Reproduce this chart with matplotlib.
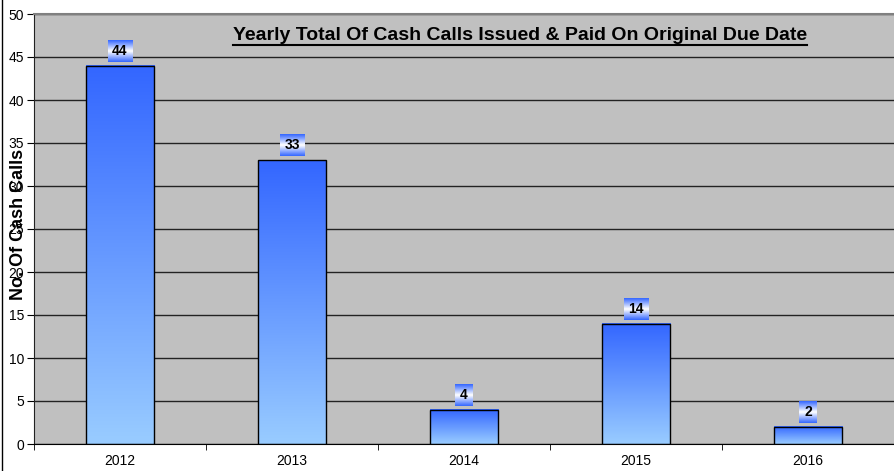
import numpy as np
import matplotlib.pyplot as plt
from matplotlib.colors import LinearSegmentedColormap
from matplotlib.patches import Rectangle
from matplotlib.lines import Line2D

plt.rcParams['font.family'] = ['Liberation Sans', 'DejaVu Sans']

years = ['2012', '2013', '2014', '2015', '2016']
calls = [44, 33, 4, 14, 2]
title = 'Yearly Total Of Cash Calls Issued & Paid On Original Due Date'
ylabel = 'No. Of Cash Calls'

bar_cmap = LinearSegmentedColormap.from_list('bar', ['#99ccff', '#3366ff'])
box_cmap = LinearSegmentedColormap.from_list('box', ['#3366ff', '#ffffff'])

fig = plt.figure(figsize=(8.94, 4.71), dpi=100)
ax = fig.add_axes([34 / 894, 27 / 471, 860 / 894, 430 / 471])
ax.set_facecolor('#c0c0c0')

x = np.arange(len(years))
width = 0.40
grad = np.linspace(0, 1, 256).reshape(-1, 1)
box_grad = np.concatenate([np.linspace(0, 1, 64), np.linspace(1, 0, 64)]).reshape(-1, 1)

for xi, v in zip(x, calls):
    ax.imshow(grad, extent=[xi - width / 2, xi + width / 2, 0, v], origin='lower',
              aspect='auto', cmap=bar_cmap, zorder=2, interpolation='bilinear')
    ax.add_patch(Rectangle((xi - width / 2, 0), width, v, fill=False,
                           edgecolor='black', lw=1, zorder=3))
    bw = 0.14 if v >= 10 else 0.10
    b0 = v + 0.47
    ax.imshow(box_grad, extent=[xi - bw / 2, xi + bw / 2, b0, b0 + 2.5], origin='lower',
              aspect='auto', cmap=box_cmap, zorder=4, interpolation='bilinear')
    ax.text(xi, b0 + 1.25, str(v), ha='center', va='center', fontsize=10,
            fontweight='bold', zorder=5)

ax.set_xlim(-0.5, len(years) - 0.5)
ax.set_ylim(0, 50)
ax.set_yticks(np.arange(0, 51, 5))
ax.yaxis.grid(True, color='#222222', lw=1)
ax.set_axisbelow(True)

ax.set_xticks(x)
ax.set_xticklabels(years)
ax.set_xticks(np.arange(-0.5, len(years), 1), minor=True)
ax.tick_params(axis='x', which='major', length=0, pad=7, labelsize=10)
ax.tick_params(axis='x', which='minor', length=4, direction='out', color='black')
ax.tick_params(axis='y', length=5, direction='out', labelsize=10, pad=2, color='black')

ax.spines['top'].set_color('#808080')
ax.spines['top'].set_linewidth(1.5)
ax.spines['right'].set_visible(False)
ax.spines['left'].set_color('#222222')
ax.spines['bottom'].set_color('black')

ax.set_ylabel(ylabel, fontsize=13, fontweight='bold')
ax.yaxis.set_label_coords(-7 / 860, 0.51)

t = ax.text(0.565, 0.951, title, transform=ax.transAxes, ha='center', va='center',
            fontsize=14, fontweight='bold', zorder=6)

fig.canvas.draw()
bb = t.get_window_extent()
uy = bb.y0 - 1
fig.add_artist(Line2D([bb.x0 / 894, bb.x1 / 894], [uy / 471, uy / 471],
                      color='black', lw=1.5))
fig.add_artist(Line2D([1.5 / 894, 1.5 / 894], [0, 1], color='black', lw=1))

fig.savefig('out.png', dpi=100)
